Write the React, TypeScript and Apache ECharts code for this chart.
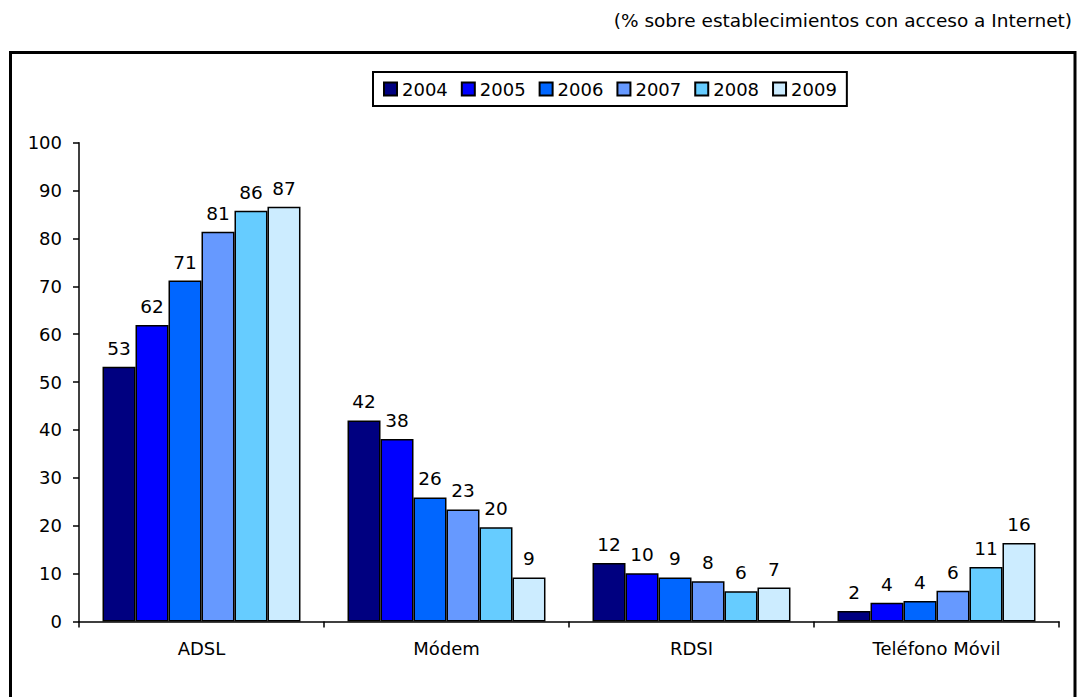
import React, { useEffect, useRef } from "react";
import * as echarts from "echarts";

const categories = ["ADSL", "Módem", "RDSI", "Teléfono Móvil"];
const years = ["2004", "2005", "2006", "2007", "2008", "2009"];
const colors = ["#000080", "#0000FF", "#0066FF", "#6699FF", "#66CCFF", "#CCECFF"];
const v2004 = [53.2, 42.0, 12.2, 2.2];
const v2005 = [61.9, 38.1, 10.1, 3.9];
const v2006 = [71.2, 25.9, 9.2, 4.3];
const v2007 = [81.4, 23.4, 8.4, 6.4];
const v2008 = [85.8, 19.7, 6.3, 11.4];
const v2009 = [86.6, 9.2, 7.1, 16.4];
const seriesValues = [v2004, v2005, v2006, v2007, v2008, v2009];
const yTicks = { min: 0, max: 100, interval: 10 };
const titleText = "(% sobre establecimientos con acceso a Internet)";

const FONT = "DejaVu Sans";

export default function App() {
  const ref = useRef<HTMLDivElement>(null);
  useEffect(() => {
    if (!ref.current) return;
    const chart = echarts.init(ref.current, undefined, { renderer: "svg" });
    chart.setOption({
      animation: false,
      backgroundColor: "#ffffff",
      textStyle: { fontFamily: FONT },
      title: {
        text: titleText,
        right: 10,
        top: 11,
        padding: 0,
        textStyle: { fontFamily: FONT, fontSize: 18.5, fontWeight: "normal", color: "#000" },
      },
      legend: {
        data: years,
        left: 373,
        top: 72,
        padding: [8, 10, 8, 10],
        borderColor: "#000",
        borderWidth: 2,
        itemGap: 13,
        itemWidth: 13,
        itemHeight: 13,
        icon: "rect",
        textStyle: { fontFamily: FONT, fontSize: 18, color: "#000" },
      },
      grid: { left: 79, right: 23, top: 142.7, bottom: 75.5, containLabel: false },
      xAxis: {
        type: "category",
        data: categories,
        axisLine: { show: true, lineStyle: { color: "#000", width: 1.5 } },
        axisTick: { show: true, interval: 0, length: 6, lineStyle: { color: "#000", width: 1.5 } },
        axisLabel: { fontFamily: FONT, fontSize: 18, color: "#000", margin: 18, interval: 0 },
        splitLine: { show: false },
      },
      yAxis: {
        type: "value",
        min: yTicks.min,
        max: yTicks.max,
        interval: yTicks.interval,
        axisLine: { show: true, lineStyle: { color: "#000", width: 1.5 } },
        axisTick: { show: true, length: 6, lineStyle: { color: "#000", width: 1.5 } },
        axisLabel: { fontFamily: FONT, fontSize: 18, color: "#000", margin: 17 },
        splitLine: { show: false },
      },
      graphic: [
        {
          type: "rect",
          shape: { x: 10.5, y: 52.5, width: 1064.5, height: 660 },
          style: { fill: "none", stroke: "#000", lineWidth: 3 },
          silent: true,
        },
      ],
      series: years.map((y, i) => ({
        name: y,
        type: "bar",
        data: seriesValues[i],
        barGap: "0%",
        barCategoryGap: "19.2%",
        itemStyle: { color: colors[i], borderColor: "#000", borderWidth: 1.5 },
        label: {
          show: true,
          position: "top",
          distance: 9,
          fontFamily: FONT,
          fontSize: 18.5,
          color: "#000",
          formatter: (p: any) => String(Math.round(p.value)),
        },
      })),
    });
    return () => chart.dispose();
  }, []);
  return (
    <div
      ref={ref}
      style={{ position: "fixed", left: 0, top: 0, width: 1082, height: 697, background: "#fff" }}
    />
  );
}
